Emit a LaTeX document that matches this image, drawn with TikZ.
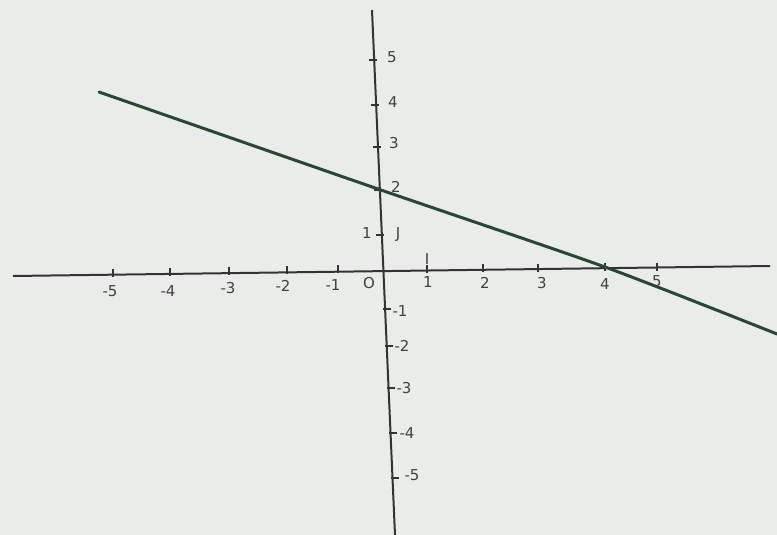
\documentclass[tikz,border=0pt]{standalone}
\usepackage{fontspec}
\setmainfont{DejaVu Sans}
\definecolor{paper}{RGB}{234,236,234}
\definecolor{gline}{RGB}{40,72,50}
\begin{document}
\begin{tikzpicture}[x=1pt,y=-1pt,
  axis/.style={line width=2pt,draw=black!80},
  tick/.style={line width=1.6pt,draw=black!80},
  lbl/.style={font=\fontsize{15}{15}\selectfont,text=black!75,inner sep=1pt},
  graphline/.style={line width=3pt,draw=gline,line cap=round}]
\fill[paper] (0,0) rectangle (777,535);
\useasboundingbox (0,0) rectangle (777,535);
% axes
\coordinate (xl) at (13,276);
\coordinate (xr) at (770,266);
\coordinate (yt) at (372,10);
\coordinate (yb) at (395,535);
\draw[axis] (xl) -- (xr);
\draw[axis] (yt) -- (yb);
% x ticks
\foreach \px/\py in {113/272.5,170/272,229/271,287/270,338/269,427/269,483/268,538/268,605/267,657/267}
  \draw[tick] (\px,\py-4) -- (\px,\py+4);
% y ticks
\foreach \px/\py in {373/60,375/105,377/147,378/190,380/235,387/309,389/346,391/388,393/433,395/478}
  \draw[tick] (\px-4,\py) -- (\px+4,\py);
% x labels
\node[lbl] (lxm5) at (110,291) {-5};
\node[lbl] (lxm4) at (168,291) {-4};
\node[lbl] (lxm3) at (228,288) {-3};
\node[lbl] (lxm2) at (283,286) {-2};
\node[lbl] (lxm1) at (333,285) {-1};
\node[lbl] (lO) at (369,283) {O};
\node[lbl] (lx1) at (428,282) {1};
\node[lbl] (lI) at (427,259) {I};
\node[lbl] (lx2) at (485,283) {2};
\node[lbl] (lx3) at (542,283) {3};
\node[lbl] (lx4) at (605,284) {4};
\node[lbl] (lx5) at (657,281) {5};
% y labels
\node[lbl] (ly5) at (392,57) {5};
\node[lbl] (ly4) at (393,102) {4};
\node[lbl] (ly3) at (394,143) {3};
\node[lbl] (ly2) at (396,187) {2};
\node[lbl] (ly1) at (367,233) {1};
\node[lbl] (lJ) at (398,235) {J};
\node[lbl] (lym1) at (400,311) {-1};
\node[lbl] (lym2) at (402,346) {-2};
\node[lbl] (lym3) at (404,388) {-3};
\node[lbl] (lym4) at (407,433) {-4};
\node[lbl] (lym5) at (412,475) {-5};
% graph line
\coordinate (ga) at (99,92);
\coordinate (gm) at (378,189);
\coordinate (gn) at (605,267);
\coordinate (gb) at (777,334);
\draw[graphline] plot[smooth, tension=0.4] coordinates {(ga) (gm) (gn) (gb)};
\end{tikzpicture}
\end{document}
